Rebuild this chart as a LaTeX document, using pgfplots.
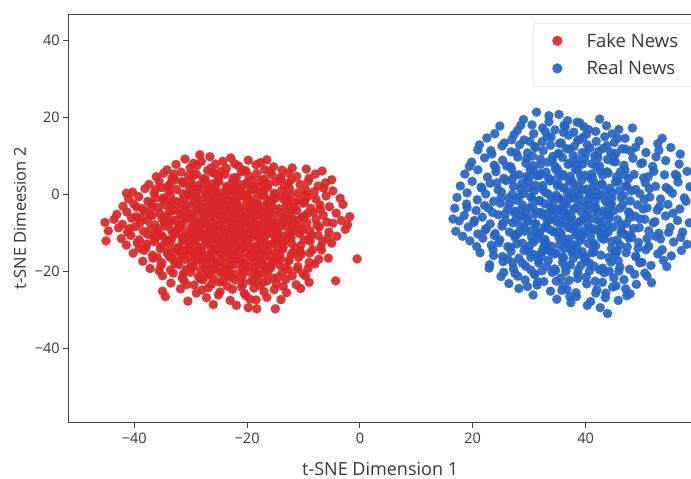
\documentclass[border=0pt]{standalone}
\usepackage{fontspec}
\setmainfont{Open Sans}
\usepackage{pgfplots}
\pgfplotsset{compat=1.18}

\definecolor{fakered}{RGB}{218,38,38}
\definecolor{realblue}{RGB}{38,100,196}
\definecolor{spine}{RGB}{70,70,70}
\definecolor{txt}{RGB}{55,55,55}

\begin{document}
\begin{tikzpicture}
\useasboundingbox (-68.3pt,-56.3pt) rectangle (622.7pt,422.7pt);
\begin{axis}[
    at={(0,0)}, anchor=south west,
    scale only axis,
    width=623.7pt, height=408.4pt,
    xmin=-51.7, xmax=58.87,
    ymin=-59.45, ymax=46.9,
    axis x line=box, axis y line=left,
    axis line style={-, draw=spine, line width=1.2pt},
    xtick={-40,-20,0,20,40}, ytick={-40,-20,0,20,40},
    xticklabels={−40,−20,0,20,40},
    yticklabels={−40,−20,0,20,40},
    xtick pos=bottom, ytick pos=left,
    tick align=outside, major tick length=5pt,
    tick style={draw=spine, line width=1pt},
    ticklabel style={font=\fontsize{14.5}{17}\selectfont, text=txt},
    xticklabel style={yshift=-2pt},
    xlabel={t-SNE Dimension 1},
    ylabel={t-SNE Dimeesion 2},
    label style={text=txt},
    xlabel style={font=\fontsize{18}{21}\selectfont, at={(axis description cs:0.5,-0.113)}, anchor=center},
    ylabel style={font=\fontsize{16.5}{19}\selectfont, at={(axis description cs:-0.0775,0.5)}, anchor=center, rotate=0},
    legend style={at={(axis description cs:0.745,0.979)}, anchor=north west,
        draw=black!18, rounded corners=3pt, fill=white, text=txt,
        font=\fontsize{18.5}{22}\selectfont,
        inner xsep=15pt, inner ysep=8pt,
        nodes={inner sep=2pt},
        /tikz/every odd column/.style={column sep=18pt},
        row sep=8pt},
    legend cell align=left,
    legend image code/.code={\path (0pt,0pt) (18pt,0pt);
        \draw[#1, mark size=5pt] plot coordinates {(9pt,0pt)};},
]

% Fake News
\addplot[only marks, mark=*, mark size=4.6pt, color=fakered,
    mark options={draw=fakered, fill=fakered, line width=0.1pt, opacity=0.92}] coordinates {
(-31.0,9.2)(-28.4,10.3)(-26.6,9.8)(-22.9,9.5)(-19.8,8.9)(-16.5,9.0)(-24.3,8.6)
(-34.2,6.4)(-32.6,7.8)(-30.1,6.9)(-28.9,7.5)(-27.0,6.2)(-25.6,7.9)(-23.7,6.8)(-21.5,7.4)(-20.2,6.1)(-18.4,7.7)(-16.9,6.5)(-15.3,7.2)(-13.8,6.3)(-12.0,6.9)(-9.5,6.6)(-29.5,8.1)(-17.6,8.3)
(-36.1,4.6)(-34.8,5.5)(-33.3,4.2)(-31.7,5.8)(-30.4,4.9)(-29.0,5.3)(-27.8,4.1)(-26.2,5.7)(-25.1,4.5)(-23.9,5.2)(-22.4,4.3)(-21.0,5.9)(-19.7,4.8)(-18.3,5.4)(-17.0,4.0)(-15.6,5.1)(-14.1,4.4)(-12.7,5.6)(-11.2,4.7)(-9.0,4.2)(-7.9,5.3)(-24.6,6.0)
(-37.4,2.6)(-35.6,3.4)(-34.0,2.2)(-32.8,3.8)(-31.3,2.9)(-30.0,3.5)(-28.7,2.3)(-27.4,3.9)(-26.1,2.7)(-25.0,3.3)(-23.6,2.1)(-22.5,3.7)(-21.2,2.5)(-20.0,3.1)(-18.8,2.0)(-17.5,3.6)(-16.2,2.8)(-14.9,3.2)(-13.4,2.4)(-12.1,3.9)(-10.6,2.6)(-9.2,3.4)(-7.4,2.2)(-6.1,3.0)(-5.0,3.8)
(-40.3,0.6)(-38.1,1.5)(-36.5,0.3)(-35.2,1.8)(-33.9,0.9)(-32.5,1.3)(-31.4,0.2)(-30.2,1.7)(-29.1,0.5)(-28.0,1.2)(-26.9,0.8)(-25.7,1.9)(-24.5,0.4)(-23.3,1.4)(-22.2,0.7)(-21.1,1.6)(-19.9,0.1)(-18.7,1.1)(-17.6,0.6)(-16.4,1.8)(-15.2,0.3)(-13.9,1.0)(-12.5,1.5)(-11.0,0.4)(-9.6,1.2)(-8.1,0.7)(-6.4,1.6)(-4.8,0.9)
(-41.0,-1.2)(-39.2,-0.6)(-37.6,-1.8)(-36.2,-0.9)(-34.9,-1.5)(-33.6,-0.3)(-32.4,-1.9)(-31.1,-1.0)(-30.0,-0.4)(-28.8,-1.6)(-27.6,-0.8)(-26.5,-1.3)(-25.3,-0.2)(-24.2,-1.7)(-23.0,-0.7)(-21.9,-1.4)(-20.7,-0.5)(-19.5,-1.9)(-18.4,-1.1)(-17.2,-0.3)(-16.0,-1.6)(-14.7,-0.8)(-13.5,-1.3)(-12.2,-0.1)(-10.8,-1.5)(-9.3,-0.6)(-7.8,-1.2)(-6.0,-0.4)(-3.5,-1.0)
(-42.0,-3.1)(-40.1,-2.5)(-38.6,-3.7)(-37.0,-2.3)(-35.8,-3.4)(-34.5,-2.8)(-33.2,-3.9)(-32.0,-2.2)(-30.9,-3.3)(-29.7,-2.6)(-28.5,-3.8)(-27.3,-2.4)(-26.2,-3.2)(-25.0,-2.9)(-23.8,-3.6)(-22.7,-2.1)(-21.5,-3.5)(-20.3,-2.7)(-19.2,-3.9)(-18.0,-2.5)(-16.8,-3.3)(-15.6,-2.2)(-14.3,-3.7)(-13.0,-2.8)(-11.6,-3.4)(-10.1,-2.3)(-8.7,-3.6)(-7.1,-2.7)(-5.4,-3.2)(-3.0,-2.6)
(-43.1,-5.2)(-41.3,-4.6)(-39.7,-5.8)(-38.2,-4.3)(-36.8,-5.5)(-35.5,-4.9)(-34.2,-5.9)(-33.0,-4.2)(-31.8,-5.3)(-30.6,-4.7)(-29.4,-5.7)(-28.2,-4.4)(-27.1,-5.1)(-25.9,-4.8)(-24.8,-5.6)(-23.6,-4.1)(-22.5,-5.4)(-21.3,-4.6)(-20.1,-5.9)(-19.0,-4.5)(-17.8,-5.2)(-16.6,-4.3)(-15.3,-5.7)(-14.0,-4.8)(-12.6,-5.3)(-11.2,-4.2)(-9.8,-5.6)(-8.2,-4.7)(-6.5,-5.4)(-4.2,-4.9)(-1.8,-5.8)
(-45.2,-7.3)(-43.6,-6.5)(-42.1,-7.8)(-40.5,-6.2)(-39.0,-7.4)(-37.7,-6.8)(-36.4,-7.9)(-35.1,-6.3)(-33.9,-7.5)(-32.7,-6.7)(-31.5,-7.7)(-30.3,-6.4)(-29.2,-7.1)(-28.0,-6.9)(-26.8,-7.6)(-25.7,-6.1)(-24.5,-7.4)(-23.4,-6.6)(-22.2,-7.9)(-21.0,-6.5)(-19.9,-7.2)(-18.7,-6.3)(-17.5,-7.7)(-16.3,-6.8)(-15.0,-7.3)(-13.7,-6.2)(-12.3,-7.6)(-10.9,-6.7)(-9.4,-7.4)(-7.8,-6.5)(-5.9,-7.2)(-3.3,-6.8)(-2.2,-7.9)
(-44.6,-9.5)(-42.8,-8.7)(-41.2,-9.8)(-39.8,-8.4)(-38.4,-9.6)(-37.1,-8.9)(-35.8,-9.9)(-34.6,-8.3)(-33.4,-9.4)(-32.2,-8.8)(-31.0,-9.7)(-29.9,-8.5)(-28.7,-9.2)(-27.5,-8.9)(-26.4,-9.6)(-25.2,-8.1)(-24.1,-9.4)(-22.9,-8.6)(-21.8,-9.9)(-20.6,-8.5)(-19.4,-9.2)(-18.3,-8.3)(-17.1,-9.7)(-15.9,-8.8)(-14.6,-9.3)(-13.3,-8.2)(-11.9,-9.6)(-10.4,-8.7)(-8.9,-9.4)(-7.2,-8.5)(-5.5,-9.8)(-2.6,-9.1)
(-42.3,-11.5)(-40.6,-10.7)(-39.1,-11.8)(-37.6,-10.4)(-36.3,-11.6)(-35.0,-10.9)(-33.8,-11.9)(-32.6,-10.3)(-31.4,-11.4)(-30.2,-10.8)(-29.1,-11.7)(-27.9,-10.5)(-26.8,-11.2)(-25.6,-10.9)(-24.4,-11.6)(-23.3,-10.1)(-22.1,-11.4)(-21.0,-10.6)(-19.8,-11.9)(-18.6,-10.5)(-17.4,-11.2)(-16.2,-10.3)(-14.9,-11.7)(-13.6,-10.8)(-12.2,-11.3)(-10.7,-10.2)(-9.1,-11.6)(-7.4,-10.7)(-5.7,-11.4)(-4.1,-10.9)
(-41.4,-13.2)(-39.5,-12.6)(-37.9,-13.8)(-36.5,-12.3)(-35.2,-13.5)(-33.9,-12.8)(-32.7,-13.9)(-31.5,-12.2)(-30.3,-13.3)(-29.2,-12.7)(-28.0,-13.7)(-26.8,-12.4)(-25.7,-13.1)(-24.5,-12.9)(-23.4,-13.6)(-22.2,-12.1)(-21.0,-13.4)(-19.9,-12.6)(-18.7,-13.9)(-17.5,-12.5)(-16.3,-13.2)(-15.0,-12.3)(-13.6,-13.7)(-12.1,-12.8)(-10.5,-13.3)(-8.8,-12.2)(-6.9,-13.6)(-5.0,-12.7)
(-40.2,-15.3)(-38.3,-14.6)(-36.8,-15.8)(-35.4,-14.2)(-34.1,-15.5)(-32.8,-14.9)(-31.6,-15.9)(-30.4,-14.3)(-29.2,-15.4)(-28.1,-14.8)(-26.9,-15.7)(-25.8,-14.4)(-24.6,-15.1)(-23.5,-14.9)(-22.3,-15.6)(-21.1,-14.1)(-20.0,-15.4)(-18.8,-14.6)(-17.6,-15.9)(-16.4,-14.5)(-15.1,-15.2)(-13.7,-14.3)(-12.2,-15.7)(-10.6,-14.8)(-8.9,-15.3)(-6.8,-14.5)
(-38.5,-17.4)(-36.7,-16.6)(-35.1,-17.8)(-33.7,-16.3)(-32.4,-17.5)(-31.1,-16.9)(-29.9,-17.9)(-28.7,-16.4)(-27.5,-17.3)(-26.3,-16.8)(-25.1,-17.7)(-24.0,-16.2)(-22.8,-17.4)(-21.6,-16.7)(-20.4,-17.9)(-19.2,-16.5)(-18.0,-17.2)(-16.8,-16.3)(-15.5,-17.6)(-14.1,-16.8)(-12.6,-17.3)(-10.9,-16.4)(-9.0,-17.7)(-7.3,-16.9)
(-37.2,-19.3)(-35.3,-18.6)(-33.6,-19.7)(-32.1,-18.3)(-30.8,-19.5)(-29.5,-18.8)(-28.2,-19.9)(-27.0,-18.4)(-25.8,-19.2)(-24.6,-18.9)(-23.3,-19.6)(-22.1,-18.2)(-20.9,-19.4)(-19.7,-18.7)(-18.4,-19.8)(-17.1,-18.5)(-15.8,-19.1)(-14.3,-18.3)(-12.7,-19.6)(-11.0,-18.8)(-9.2,-19.3)(-8.0,-18.1)
(-35.0,-21.2)(-33.1,-20.5)(-31.5,-21.7)(-30.0,-20.3)(-28.6,-21.4)(-27.3,-20.8)(-26.0,-21.9)(-24.7,-20.4)(-23.4,-21.3)(-22.2,-20.7)(-20.9,-21.6)(-19.6,-20.2)(-18.3,-21.5)(-16.9,-20.6)(-15.4,-21.8)(-13.8,-20.4)(-12.0,-21.2)(-10.1,-20.7)
(-33.5,-23.1)(-31.2,-22.4)(-29.4,-23.6)(-27.8,-22.2)(-26.3,-23.4)(-24.9,-22.8)(-23.5,-23.9)(-22.1,-22.3)(-20.7,-23.2)(-19.3,-22.6)(-17.9,-23.7)(-16.4,-22.5)(-14.8,-23.3)(-13.1,-22.1)(-11.3,-23.5)(-9.0,-22.9)
(-35.0,-25.2)(-31.8,-24.6)(-29.0,-25.7)(-26.9,-24.3)(-24.8,-25.4)(-22.6,-24.7)(-20.5,-25.8)(-18.8,-24.4)(-17.0,-25.3)(-15.2,-24.8)(-13.0,-25.6)(-10.5,-24.5)
(-34.5,-26.6)(-30.5,-27.8)(-27.2,-26.9)(-23.0,-27.6)(-20.2,-26.4)(-18.4,-27.5)(-16.5,-26.8)(-14.0,-27.4)
(-26.0,-28.7)(-21.9,-28.9)(-19.8,-29.5)(-18.3,-29.8)(-15.0,-29.8)
(-0.5,-16.8)(-4.3,-22.5)(-41.4,0.3)(-45.0,-12.1)(-6.7,6.1)
(-30.7,0.0)(-27.2,-0.1)(-23.8,0.2)(-20.4,-0.3)(-17.0,0.0)(-13.1,-0.2)
(-33.5,-2.1)(-29.3,-1.9)(-25.9,-2.0)(-22.5,-1.8)(-19.6,-2.2)(-16.4,-2.0)(-12.8,-1.7)(-9.8,-1.9)
(-31.9,-4.0)(-28.8,-3.9)(-24.9,-4.0)(-21.9,-3.8)(-18.6,-4.1)(-15.0,-3.9)(-11.9,-4.0)
(-34.6,-6.0)(-30.9,-6.1)(-27.6,-5.9)(-23.1,-6.0)(-20.5,-5.8)(-17.2,-6.1)(-13.4,-5.9)(-10.3,-6.0)
(-32.1,-8.0)(-28.3,-7.9)(-24.9,-8.1)(-21.4,-7.9)(-18.1,-8.0)(-14.4,-8.1)(-11.5,-7.9)
(-33.0,-10.0)(-29.6,-10.1)(-26.1,-9.9)(-22.6,-10.0)(-19.3,-10.1)(-15.7,-9.9)(-12.6,-10.0)
(-34.4,-12.0)(-30.8,-11.9)(-27.4,-12.1)(-23.9,-12.0)(-20.3,-11.9)(-16.9,-12.1)(-13.2,-12.0)
(-32.0,-14.0)(-28.6,-13.9)(-25.1,-14.1)(-21.6,-14.0)(-18.2,-13.9)(-14.5,-14.1)
(-30.1,-16.0)(-26.6,-16.1)(-23.0,-15.9)(-19.5,-16.0)(-15.9,-16.1)
(-27.9,-18.0)(-24.0,-18.1)(-20.6,-17.9)(-17.3,-18.0)
(-22.0,2.0)(-26.5,1.9)(-18.0,2.1)(-29.8,2.2)
(-27.3,-3.4)(-24.1,-6.2)(-20.8,-9.7)(-18.2,-2.9)(-29.6,-8.8)(-22.7,-13.1)(-16.4,-6.5)(-25.5,0.9)(-31.2,-5.7)(-19.1,-15.2)
(-23.4,-1.6)(-26.9,-11.4)(-21.6,-4.8)(-17.7,-11.9)(-28.4,-14.7)(-14.8,-9.2)(-33.1,-1.8)(-20.2,2.6)(-24.8,-16.9)(-12.9,-4.3)
(-30.3,-12.5)(-22.1,-7.7)(-26.2,-5.1)(-18.9,-7.4)(-15.7,-1.3)(-28.8,1.4)(-23.9,-10.6)(-20.0,-12.8)(-32.6,-9.6)(-16.9,-14.3)
(-25.2,3.7)(-21.3,-0.4)(-27.9,-6.8)(-19.6,-5.3)(-13.7,-12.6)(-30.8,-2.6)(-24.4,-13.9)(-17.3,0.6)(-22.9,-18.4)(-34.7,-7.3)
(-26.6,-9.1)(-20.5,-10.9)(-23.2,-4.2)(-18.6,-17.8)(-29.1,-17.2)(-15.2,-7.9)(-11.8,-8.6)(-27.0,-1.0)(-21.9,4.4)(-31.7,-15.3)
(-25.8,-19.6)(-19.9,-0.9)(-22.4,-9.4)(-16.1,-3.7)(-28.1,-11.0)(-24.6,-2.3)(-14.2,-15.9)(-33.4,-11.7)(-17.9,-9.8)(-20.7,-20.3)
(-26.3,-14.2)(-23.6,1.8)(-18.4,-13.4)(-29.8,-4.9)(-12.3,-10.8)(-21.1,-16.6)(-25.0,-7.9)(-15.9,-18.5)(-27.6,3.0)(-32.0,-13.8)
(-19.3,-6.6)(-23.0,-11.8)(-28.6,-9.9)(-16.7,2.3)(-21.8,-2.5)(-25.9,-17.7)(-13.4,-6.9)(-30.5,0.2)(-24.2,-4.6)(-18.0,-20.9)
(-22.6,-15.4)(-27.2,-12.9)(-20.4,-7.1)(-14.6,-12.1)(-31.9,-7.8)(-17.6,-4.4)(-26.0,-2.9)(-23.7,-19.8)(-29.3,-15.8)(-11.4,-13.9)
(-24.9,-11.2)(-19.5,-3.9)(-21.5,-12.3)(-27.7,-5.6)(-15.4,-10.4)(-33.8,-4.6)(-22.3,0.8)(-18.8,-16.2)(-26.8,-20.9)(-13.1,-1.9)
(-35.5,-10.4)(-30.0,-19.2)(-16.3,-20.0)(-12.6,-17.2)(-9.9,-11.9)(-9.3,-5.0)(-36.9,-3.4)(-33.6,2.8)(-29.5,5.0)(-14.0,4.1)
(-37.8,-12.9)(-35.9,-16.5)(-10.4,-15.6)(-11.6,-2.1)(-20.6,6.3)(-26.4,6.9)(-32.8,-18.0)(-24.3,-22.6)(-17.2,-23.0)(-28.3,-22.0)
(-23.1,-6.9)(-25.6,-8.4)(-21.2,-8.0)(-19.0,-11.1)(-27.1,-10.3)(-22.0,-3.2)(-24.7,-9.8)(-20.1,-4.1)(-26.5,-7.2)(-18.5,-8.7)
(-23.8,-12.4)(-28.9,-7.5)(-16.6,-8.3)(-22.8,-5.5)(-25.3,-12.0)(-19.7,-13.7)(-27.4,-4.3)(-21.4,-14.8)(-24.0,-3.0)(-17.1,-5.8)
(-30.1,-10.6)(-15.5,-12.9)(-22.5,-16.3)(-29.0,-0.8)(-19.2,1.3)(-25.7,-15.1)(-13.9,-8.1)(-31.4,-11.2)(-18.1,-14.9)(-26.1,-0.3)
(-38.9,-6.1)(-36.0,-8.8)(-34.1,-14.9)(-31.3,-20.7)(-28.0,-24.9)(-21.0,-24.1)(-14.5,-21.6)(-11.1,-19.4)(-8.4,-14.4)(-7.6,-8.0)
(-6.6,-12.2)(-7.0,-3.9)(-9.7,0.0)(-12.7,2.9)(-16.0,5.9)(-22.2,8.0)(-28.1,8.6)(-33.0,5.3)(-36.2,1.3)(-39.6,-3.3)
(-40.8,-8.9)(-39.1,-14.0)(-35.6,-19.9)(-30.7,-23.5)(-25.1,-26.2)(-19.5,-27.3)(-13.6,-24.0)(-9.6,-21.3)(-5.6,-16.6)(-4.8,-7.5)
(-29.9,-13.9)(-24.3,-20.5)(-18.9,-22.2)(-13.2,-19.0)(-10.2,-9.4)(-12.0,-6.2)(-15.0,0.1)(-19.0,3.6)(-25.8,5.6)(-31.5,3.3)
(-34.8,-0.9)(-37.3,-5.5)(-36.6,-11.0)(-33.2,-16.8)(-27.3,-19.3)(-22.9,-21.6)(-16.8,-19.4)(-14.8,-17.0)(-11.9,-15.1)(-8.6,-10.6)
(-24.5,-5.3)(-21.7,-6.4)(-26.2,-10.7)(-19.4,-8.0)(-23.5,-8.9)(-28.3,-3.1)(-17.0,-10.5)(-25.2,-1.1)(-20.9,-13.9)(-29.4,-11.6)
(-16.0,-4.8)(-22.6,3.1)(-30.9,-14.6)(-14.3,-11.1)(-27.9,-16.3)(-18.7,-19.0)(-33.4,-6.9)(-12.2,-7.3)(-24.1,-14.5)(-21.2,1.0)
};
\addlegendentry{Fake News}

% Real News
\addplot[only marks, mark=*, mark size=4.6pt, color=realblue,
    mark options={draw=realblue, fill=realblue, line width=0.1pt, opacity=0.92}] coordinates {
(31.3,21.4)(33.5,20.5)(29.0,19.5)(36.8,19.2)(38.5,18.8)
(24.8,17.8)(27.9,16.6)(30.5,18.1)(32.4,17.3)(34.6,16.8)(36.2,18.0)(39.7,17.6)(41.8,16.4)(43.7,17.9)(45.9,16.9)(37.9,16.2)
(22.5,14.7)(25.6,13.4)(27.3,15.5)(29.1,14.2)(30.8,15.8)(32.3,13.7)(33.9,14.9)(35.4,13.3)(37.0,15.4)(38.6,14.1)(40.2,15.7)(41.9,13.8)(43.4,15.0)(45.1,13.5)(47.0,14.6)(49.5,13.9)(52.8,13.2)(36.1,16.1)
(20.9,11.6)(23.4,10.5)(25.2,12.6)(26.8,11.1)(28.3,12.9)(29.7,10.8)(31.1,12.2)(32.5,11.4)(33.8,12.8)(35.2,10.6)(36.6,11.9)(38.0,12.5)(39.4,10.9)(40.8,12.1)(42.3,11.2)(43.8,12.7)(45.4,10.7)(47.1,11.8)(48.9,12.3)(50.7,10.9)(53.0,11.5)(55.1,12.2)
(19.8,8.4)(22.1,9.5)(23.8,7.6)(25.3,8.9)(26.7,7.2)(28.0,9.7)(29.4,8.1)(30.7,7.5)(32.0,9.2)(33.3,8.4)(34.6,7.3)(35.9,9.6)(37.2,8.2)(38.5,7.7)(39.8,9.3)(41.1,8.0)(42.5,7.4)(43.9,9.1)(45.3,8.5)(46.8,7.6)(48.4,9.4)(50.1,8.2)(51.9,7.3)(54.2,8.8)(56.6,7.9)
(18.6,5.3)(20.9,6.4)(22.6,4.5)(24.1,5.9)(25.5,4.2)(26.9,6.6)(28.2,5.1)(29.5,4.6)(30.8,6.2)(32.1,5.4)(33.4,4.3)(34.7,6.5)(36.0,5.2)(37.3,4.7)(38.6,6.3)(39.9,5.0)(41.2,4.4)(42.6,6.1)(44.0,5.5)(45.5,4.6)(47.0,6.4)(48.6,5.2)(50.3,4.3)(52.1,6.0)(54.0,5.1)(56.2,4.8)(58.0,6.0)
(17.8,2.2)(19.9,3.4)(21.6,1.6)(23.1,2.9)(24.5,1.2)(25.9,3.6)(27.2,2.1)(28.5,1.5)(29.8,3.2)(31.1,2.4)(32.4,1.3)(33.7,3.5)(35.0,2.2)(36.3,1.7)(37.6,3.3)(38.9,2.0)(40.2,1.4)(41.5,3.1)(42.9,2.5)(44.3,1.6)(45.8,3.4)(47.3,2.2)(48.9,1.3)(50.6,3.0)(52.4,2.1)(54.3,1.8)(56.4,3.2)(58.5,2.0)
(17.2,-0.8)(19.0,0.4)(20.8,-1.4)(22.3,0.1)(23.7,-1.8)(25.1,0.6)(26.4,-0.9)(27.7,-1.5)(29.0,0.2)(30.3,-0.6)(31.6,-1.7)(32.9,0.5)(34.2,-0.8)(35.5,-1.3)(36.8,0.3)(38.1,-1.0)(39.4,-1.6)(40.7,0.1)(42.0,-0.5)(43.4,-1.4)(44.8,0.4)(46.3,-0.8)(47.9,-1.7)(49.6,0.2)(51.4,-0.7)(53.3,-1.2)(55.4,0.3)(57.5,-0.9)
(16.8,-3.6)(18.9,-2.5)(20.6,-4.2)(22.1,-2.9)(23.5,-4.7)(24.9,-2.3)(26.2,-3.8)(27.5,-4.4)(28.8,-2.7)(30.1,-3.4)(31.4,-4.6)(32.7,-2.4)(34.0,-3.7)(35.3,-4.2)(36.6,-2.6)(37.9,-3.9)(39.2,-4.5)(40.5,-2.8)(41.8,-3.3)(43.2,-4.3)(44.6,-2.5)(46.1,-3.6)(47.6,-4.6)(49.2,-2.7)(50.9,-3.5)(52.7,-4.1)(54.6,-2.6)(56.7,-3.8)(59.0,-4.4)
(16.5,-6.4)(18.5,-5.5)(20.2,-7.3)(21.7,-5.9)(23.1,-7.7)(24.5,-5.3)(25.8,-6.8)(27.1,-7.4)(28.4,-5.7)(29.7,-6.4)(31.0,-7.6)(32.3,-5.4)(33.6,-6.7)(34.9,-7.2)(36.2,-5.6)(37.5,-6.9)(38.8,-7.5)(40.1,-5.8)(41.4,-6.3)(42.8,-7.3)(44.2,-5.5)(45.7,-6.6)(47.2,-7.6)(48.8,-5.7)(50.5,-6.5)(52.3,-7.1)(54.2,-5.6)(56.3,-6.8)(58.4,-7.4)(60.0,-6.9)
(17.0,-9.6)(19.2,-8.5)(20.9,-10.3)(22.4,-8.9)(23.8,-10.7)(25.2,-8.3)(26.5,-9.8)(27.8,-10.4)(29.1,-8.7)(30.4,-9.4)(31.7,-10.6)(33.0,-8.4)(34.3,-9.7)(35.6,-10.2)(36.9,-8.6)(38.2,-9.9)(39.5,-10.5)(40.8,-8.8)(42.1,-9.3)(43.5,-10.3)(44.9,-8.5)(46.4,-9.6)(47.9,-10.6)(49.5,-8.7)(51.2,-9.5)(53.0,-10.1)(55.0,-8.6)(57.2,-9.8)
(19.5,-12.1)(21.8,-11.4)(23.3,-13.2)(24.8,-11.8)(26.2,-13.6)(27.5,-11.2)(28.8,-12.7)(30.1,-13.3)(31.4,-11.6)(32.7,-12.3)(34.0,-13.5)(35.3,-11.3)(36.6,-12.6)(37.9,-13.1)(39.2,-11.5)(40.5,-12.8)(41.8,-13.4)(43.2,-11.7)(44.6,-12.2)(46.1,-13.2)(47.7,-11.4)(49.4,-12.5)(51.2,-13.5)(53.3,-11.6)(55.6,-12.4)(58.0,-13.0)
(21.3,-15.2)(23.6,-14.4)(25.3,-16.2)(26.8,-14.8)(28.2,-16.6)(29.6,-14.2)(30.9,-15.7)(32.2,-16.3)(33.5,-14.6)(34.8,-15.3)(36.1,-16.5)(37.4,-14.3)(38.7,-15.6)(40.0,-16.1)(41.3,-14.5)(42.7,-15.8)(44.1,-16.4)(45.6,-14.7)(47.2,-15.2)(48.9,-16.2)(50.7,-14.4)(52.8,-15.5)(55.2,-16.0)
(23.0,-18.3)(25.4,-17.5)(27.2,-19.3)(28.8,-17.9)(30.3,-19.7)(31.7,-17.3)(33.1,-18.8)(34.5,-19.4)(35.9,-17.7)(37.3,-18.4)(38.7,-19.6)(40.1,-17.4)(41.5,-18.7)(43.0,-19.2)(44.5,-17.6)(46.1,-18.9)(47.8,-19.5)(49.6,-17.8)(51.6,-18.5)(53.8,-17.2)
(25.0,-21.4)(27.5,-20.6)(29.3,-22.3)(31.0,-20.9)(32.6,-22.7)(34.1,-20.3)(35.6,-21.8)(37.1,-22.4)(38.6,-20.7)(40.1,-21.5)(41.7,-22.6)(43.3,-20.4)(45.0,-21.7)(46.8,-22.2)(48.7,-20.8)(50.9,-21.3)
(28.2,-24.5)(31.4,-23.6)(33.8,-25.2)(36.0,-23.9)(38.3,-25.6)(40.2,-23.3)(42.0,-24.8)(43.6,-25.7)(45.4,-23.8)(47.1,-24.6)(49.0,-23.4)
(34.9,-27.3)(38.4,-26.6)(40.9,-27.9)(43.5,-26.9)(45.8,-27.6)(47.3,-26.4)
(43.9,-31.0)(40.3,-28.9)
(27.0,0.0)(30.9,0.9)(34.8,-0.2)(38.5,0.8)(42.4,-0.1)(46.0,1.0)
(25.8,-5.0)(29.4,-4.9)(33.0,-5.1)(36.7,-4.9)(40.3,-5.0)(44.0,-5.1)(47.8,-4.9)
(28.1,-10.0)(31.9,-9.9)(35.5,-10.0)(39.0,-9.9)(42.6,-10.1)(46.3,-10.0)
(27.4,5.0)(31.3,4.9)(35.2,5.1)(39.1,4.9)(43.0,5.0)(46.9,5.1)
(30.0,-15.0)(33.8,-14.9)(37.6,-15.1)(41.4,-15.0)(45.2,-14.9)
(30.6,10.0)(34.2,9.9)(37.8,10.1)(41.6,10.0)(45.0,9.9)
(32.3,-19.9)(36.5,-20.1)(40.7,-19.9)(44.2,-20.0)
(33.2,15.0)(39.6,14.9)(35.8,-25.0)
(36.3,-2.1)(33.2,-6.9)(39.8,-9.4)(41.7,-1.8)(30.6,-3.3)(35.1,2.9)(38.4,-13.6)(44.2,-6.2)(28.4,-8.1)(32.8,-11.7)
(40.9,4.1)(37.5,-5.9)(34.4,-15.5)(46.6,-2.7)(29.9,1.8)(42.8,-11.3)(36.9,7.8)(31.7,-17.9)(45.3,3.2)(26.5,-2.5)
(39.2,-18.4)(33.9,-0.8)(43.6,0.6)(38.0,-8.4)(27.8,-12.9)(48.5,-8.9)(35.8,-10.9)(30.2,6.5)(41.2,-15.2)(44.9,8.6)
(32.1,-4.7)(37.1,11.8)(47.4,-13.7)(25.3,-7.6)(39.6,1.2)(34.7,-19.8)(42.1,-4.6)(29.1,-14.6)(50.2,-3.8)(36.0,4.8)
(31.0,12.5)(45.8,-17.3)(38.7,-2.9)(27.0,3.9)(43.1,12.0)(33.6,-9.1)(40.4,-7.7)(35.4,-13.1)(48.1,0.9)(30.9,-20.6)
(37.8,-16.7)(41.9,7.2)(28.9,-5.7)(46.2,5.9)(34.1,8.9)(39.1,-12.0)(32.4,2.3)(44.0,-9.8)(36.6,-7.4)(26.2,-16.8)
(50.9,-11.5)(42.5,-19.6)(29.6,9.3)(38.9,14.2)(35.0,-3.9)(47.8,-6.1)(31.4,-9.7)(41.0,-0.4)(33.0,5.8)(44.6,-14.1)
(37.4,0.5)(28.2,-0.6)(45.0,-4.3)(34.9,-6.4)(39.9,-5.2)(32.6,-13.6)(42.9,2.7)(36.4,-18.9)(30.4,-11.1)(48.9,-16.1)
(40.0,10.6)(27.4,-10.6)(35.7,13.4)(43.7,-2.0)(38.2,6.5)(31.9,-1.6)(46.9,-10.4)(33.4,-17.2)(41.5,-9.0)(37.0,-11.6)
(29.4,-18.7)(44.4,11.0)(36.1,1.6)(39.4,-14.9)(34.2,-2.7)(42.3,-6.8)(30.0,4.4)(47.1,2.1)(35.5,-8.0)(40.7,-17.9)
(52.0,-7.4)(53.6,-14.4)(51.1,4.6)(49.8,8.0)(24.0,-10.2)(22.8,-3.6)(24.3,3.0)(27.7,10.8)(33.5,18.9)(40.5,16.9)
(46.5,11.9)(50.5,-20.5)(44.8,-24.1)(36.7,-24.7)(29.7,-24.0)(23.7,-15.9)(20.3,-6.8)(21.5,1.9)(26.0,7.4)(32.9,16.3)
(38.1,-3.6)(36.5,-5.0)(33.7,-3.1)(40.2,-3.0)(37.7,-0.9)(35.3,-1.0)(39.0,-7.0)(34.5,-9.8)(41.4,-12.7)(31.2,-7.7)
(30.5,-1.1)(43.9,-8.1)(37.9,2.6)(42.0,0.8)(28.6,-3.9)(45.6,-11.9)(32.2,-15.0)(39.3,3.7)(35.9,-16.3)(41.1,5.3)
(27.1,-17.8)(50.4,-1.3)(45.9,-20.0)(25.5,-20.3)(48.0,11.3)(52.5,9.8)(55.5,-4.9)(56.9,-11.2)(54.8,1.2)(57.8,-1.8)
(19.0,-3.4)(18.2,-10.9)(20.7,-13.6)(22.9,-19.2)(26.4,-23.2)(30.7,-26.2)(37.4,-28.2)(42.6,-29.5)(47.9,-25.9)(51.7,-23.0)
(54.4,-18.8)(57.0,-14.6)(59.3,-9.5)(59.6,-1.4)(58.9,4.0)(56.8,10.5)(53.6,14.6)(48.3,17.3)(42.5,19.6)(35.3,20.8)
(28.5,18.0)(23.9,15.8)(21.2,12.9)(19.4,7.3)(17.6,-6.9)(24.6,-12.6)(26.9,14.2)(44.7,15.8)(52.4,-10.9)(49.3,-14.0)
(34.0,-4.4)(36.9,-1.3)(39.7,-6.1)(32.7,-8.6)(38.3,-10.6)(35.6,-7.0)(41.6,-3.9)(33.3,0.2)(37.1,3.6)(40.9,-10.9)
(29.2,-9.6)(43.4,-5.3)(31.8,4.9)(36.2,-14.1)(44.6,-1.1)(27.6,-6.6)(39.5,7.9)(33.1,-12.9)(46.4,-7.9)(30.3,-16.4)
(42.2,9.5)(35.2,10.7)(28.7,2.8)(45.3,-15.7)(38.6,-21.9)(32.0,7.8)(48.2,-11.2)(26.7,-13.8)(40.3,12.9)(34.8,-22.6)
(47.6,4.1)(25.0,-0.9)(43.0,-22.9)(30.1,13.8)(49.7,-6.4)(37.2,-26.6)(51.3,1.5)(24.1,6.9)(45.7,14.6)(28.0,-21.3)
(53.1,-3.2)(41.8,-25.7)(22.2,-9.3)(36.4,17.6)(54.7,-9.9)(31.5,-22.8)(50.0,-17.7)(23.2,11.4)(55.9,5.2)(39.0,18.6)
(38.8,-0.2)(35.9,-3.4)(37.3,-8.8)(40.6,-1.0)(34.3,-5.7)(31.0,-5.2)(42.7,-8.6)(36.8,-12.8)(33.9,3.8)(41.3,2.0)
(29.8,-7.0)(44.3,-3.0)(38.4,9.1)(32.5,-14.4)(46.7,-0.3)(27.3,-4.6)(39.8,-16.6)(35.0,6.6)(43.8,5.9)(30.8,-12.4)
};
\addlegendentry{Real News}
\end{axis}
\end{tikzpicture}
\end{document}
